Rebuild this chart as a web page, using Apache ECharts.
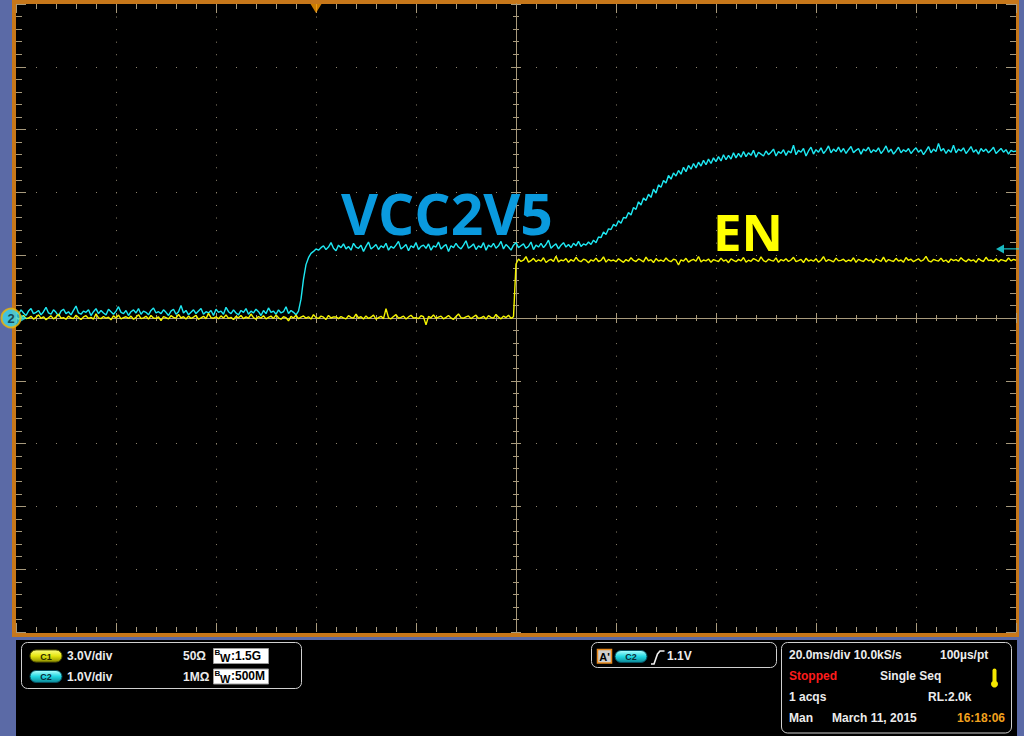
<!DOCTYPE html>
<html>
<head>
<meta charset="utf-8">
<title>VCC2V5 / EN power-up</title>
<script src="https://cdn.jsdelivr.net/npm/echarts@6/dist/echarts.min.js"></script>
<style>
  html, body { margin: 0; padding: 0; background: #5b6aa6; }
  #chart { width: 1024px; height: 736px; }
</style>
</head>
<body>
<div id="chart"></div>
<script>
// time base: screen spans -60 .. 140 ms (20 ms/div), trigger at 0
const T0 = -60;
const DT = 0.5;
const tMin = -60;
const tMax = 140;

// C2 = VCC2V5, volts (1.0 V/div)
const c2Volts = [
  // before the first step
  0.10,0.06,0.13,0.08,0.04,0.11,0.15,0.07,0.09,0.12,
  0.05,0.10,0.17,0.08,0.06,0.13,0.09,0.03,0.11,0.14,
  0.07,0.10,0.05,0.12,0.19,0.08,0.06,0.11,0.09,0.13,
  0.04,0.10,0.15,0.07,0.12,0.08,0.05,0.14,0.10,0.06,
  0.11,0.18,0.09,0.07,0.12,0.04,0.10,0.13,0.08,0.15,
  0.06,0.11,0.09,0.05,0.12,0.16,0.08,0.10,0.07,0.13,
  0.09,0.04,0.11,0.14,0.06,0.10,0.20,0.08,0.12,0.05,
  0.09,0.13,0.07,0.11,0.15,0.06,0.10,0.08,0.12,0.04,
  0.14,0.09,0.11,0.06,0.17,0.10,0.07,0.13,0.08,0.05,
  0.12,0.09,0.15,0.06,0.11,0.08,0.14,0.10,0.04,0.12,
  0.07,0.16,0.09,0.11,0.06,0.13,0.08,0.10,0.18,0.07,
  0.12,0.09,0.05,0.11,
  // first step
  0.30,0.62,0.85,0.96,1.03,1.06,1.10,1.08,1.12,
  // shelf
  1.15,1.09,1.13,1.20,1.11,1.07,1.16,1.12,1.18,1.10,
  1.14,1.08,1.19,1.13,1.11,1.16,1.06,1.14,1.21,1.10,
  1.13,1.17,1.09,1.15,1.12,1.19,1.08,1.14,1.11,1.16,
  1.22,1.10,1.13,1.17,1.07,1.15,1.12,1.20,1.09,1.14,
  1.16,1.11,1.18,1.08,1.15,1.13,1.21,1.10,1.14,1.17,
  1.06,1.15,1.12,1.19,1.13,1.10,1.16,1.23,1.11,1.14,
  1.18,1.09,1.15,1.12,1.20,1.08,1.16,1.13,1.19,1.11,
  1.15,1.22,1.10,1.17,1.13,1.08,1.16,1.20,1.12,1.15,
  1.18,1.11,1.14,1.21,1.09,1.16,1.13,1.19,1.12,1.17,
  1.24,1.11,1.15,1.18,1.10,1.16,1.20,1.13,1.17,1.12,
  1.19,1.15,1.22,1.14,1.18,1.16,1.21,
  // second ramp and final level
  1.17,1.24,1.20,1.29,1.28,1.37,1.33,1.42,1.41,1.49,
  1.46,1.55,1.51,1.60,1.59,1.68,1.64,1.76,1.73,1.85,
  1.80,1.91,1.87,1.97,1.92,2.05,1.99,2.12,2.08,2.19,
  2.15,2.27,2.21,2.31,2.26,2.35,2.29,2.40,2.33,2.43,
  2.37,2.46,2.39,2.48,2.42,2.51,2.44,2.53,2.46,2.55,
  2.49,2.57,2.50,2.60,2.52,2.59,2.53,2.63,2.55,2.62,
  2.56,2.65,2.57,2.63,2.59,2.67,2.56,2.64,2.61,2.58,
  2.66,2.60,2.64,2.69,2.58,2.65,2.62,2.68,2.59,2.66,
  2.63,2.75,2.60,2.67,2.64,2.70,2.58,2.66,2.72,2.61,
  2.68,2.64,2.71,2.62,2.67,2.74,2.63,2.69,2.65,2.72,
  2.64,2.70,2.62,2.68,2.73,2.63,2.67,2.70,2.61,2.69,
  2.66,2.72,2.63,2.68,2.65,2.71,2.62,2.67,2.74,2.64,
  2.69,2.61,2.66,2.72,2.63,2.68,2.65,2.70,2.62,2.67,
  2.71,2.64,2.68,2.60,2.66,2.73,2.63,2.69,2.65,2.78,
  2.66,2.70,2.62,2.68,2.64,2.75,2.63,2.69,2.66,2.71,
  2.62,2.67,2.73,2.64,2.68,2.61,2.70,2.65,2.69,2.63,
  2.67,2.72,2.62,2.66,2.70,2.64,2.68,2.61,2.67,2.65,
  2.66
];

// C1 = EN, volts (3.0 V/div)
const c1Volts = [
  // low
  0.05,-0.06,0.02,0.12,-0.03,0.00,0.08,-0.05,0.03,0.15,
  -0.02,0.06,-0.08,0.01,0.10,-0.04,0.04,0.18,-0.01,0.02,
  -0.06,0.09,0.00,-0.03,0.13,0.02,-0.07,0.05,0.11,-0.02,
  0.03,-0.05,0.20,0.01,-0.03,0.07,-0.01,0.04,-0.09,0.10,
  0.00,0.14,-0.04,0.02,0.06,-0.02,0.09,-0.06,0.03,0.16,
  -0.03,0.01,0.08,-0.05,0.12,0.00,-0.02,0.05,-0.12,0.07,
  0.02,-0.04,0.11,0.03,-0.01,0.17,0.00,0.06,-0.05,0.09,
  -0.02,0.04,0.13,-0.06,0.01,0.08,-0.03,0.22,0.02,-0.01,
  0.06,-0.04,0.10,0.00,0.15,-0.02,0.03,-0.07,0.08,0.01,
  0.12,-0.03,0.05,-0.01,0.19,0.02,-0.05,0.07,0.00,0.11,
  -0.04,0.03,0.09,-0.02,0.14,0.01,-0.06,0.06,0.02,-0.14,
  0.08,0.00,0.13,-0.03,0.04,0.10,-0.01,0.06,-0.05,0.16,
  0.02,-0.02,0.09,0.04,-0.07,0.12,0.00,0.05,0.05,-0.03,
  0.07,0.01,-0.04,0.11,0.03,-0.01,0.18,0.00,0.06,-0.05,
  0.10,-0.02,0.04,0.14,-0.06,0.02,0.08,-0.03,0.45,0.01,
  -0.04,0.07,0.16,-0.01,0.03,0.09,-0.05,0.05,0.13,0.00,
  0.02,-0.03,0.11,0.06,-0.33,0.08,0.01,0.15,-0.02,0.04,
  0.09,-0.04,0.03,0.12,0.00,-0.06,0.07,0.19,0.02,-0.01,
  0.05,0.10,-0.03,0.06,0.14,-0.02,0.01,0.08,-0.05,0.11,
  0.03,-0.01,0.17,0.04,-0.04,0.09,0.02,0.13,-0.02,0.06,
  // high
  2.58,2.82,2.70,2.76,2.93,2.67,2.74,2.85,2.69,2.78,
  2.72,2.88,2.65,2.75,2.80,2.70,2.95,2.68,2.77,2.73,
  2.84,2.66,2.79,2.71,2.90,2.74,2.69,2.81,2.76,2.64,
  2.78,2.72,2.86,2.70,2.75,2.92,2.67,2.80,2.73,2.77,
  2.69,2.83,2.74,2.66,2.79,2.71,2.88,2.75,2.70,2.82,
  2.76,2.68,2.91,2.73,2.79,2.65,2.84,2.72,2.77,2.70,
  2.87,2.74,2.69,2.81,2.76,2.53,2.78,2.72,2.85,2.67,
  2.75,2.80,2.71,2.94,2.68,2.77,2.73,2.82,2.66,2.79,
  2.74,2.70,2.86,2.72,2.78,2.64,2.83,2.75,2.69,2.80,
  2.73,2.89,2.67,2.76,2.71,2.84,2.78,2.70,2.92,2.74,
  2.68,2.81,2.75,2.72,2.87,2.66,2.79,2.73,2.83,2.70,
  2.77,2.90,2.69,2.74,2.80,2.65,2.85,2.72,2.78,2.71,
  2.83,2.67,2.76,2.93,2.70,2.79,2.74,2.68,2.86,2.73,
  2.75,2.81,2.69,2.77,2.72,2.88,2.66,2.80,2.74,2.70,
  2.84,2.73,2.78,2.64,2.82,2.76,2.71,2.91,2.68,2.79,
  2.74,2.70,2.85,2.72,2.77,2.67,2.89,2.75,2.81,2.69,
  2.76,2.83,2.71,2.78,2.94,2.73,2.68,2.80,2.75,2.72,
  2.86,2.70,2.77,2.65,2.82,2.74,2.79,2.71,2.88,2.76,
  2.69,2.81,2.73,2.78,2.66,2.84,2.75,2.70,2.90,2.74,
  2.77,2.72,2.83,2.68,2.79,2.75,2.71,2.87,2.73,2.80,
  2.76
];

const triggerTime = 0;     // ms
const triggerLevel = 1.1;  // V on C2
const c2Ground = 0;        // V

const TRACE_C2 = '#1ee8f2';
const TRACE_C1 = '#f4f400';
const TAN = '#a89a7c';
const DOT = '#8c826c';
const ORANGE = '#c6771a';
const FONT = '"Liberation Sans", Arial, sans-serif';

function pairs(vals) {
  return vals.map((v, i) => [T0 + i * DT, v]);
}

// centre cross (ticks on both sides -> two axes each)
function centerX(inside) {
  return {
    type: 'value', min: tMin, max: tMax, interval: 20, position: 'bottom', z: 1,
    axisLine: { show: true, onZero: true, onZeroAxisIndex: 0, lineStyle: { color: TAN, width: 1 } },
    axisTick: { show: true, inside: inside, length: 5, lineStyle: { color: TAN } },
    minorTick: { show: true, splitNumber: 5, length: 3, lineStyle: { color: TAN } },
    axisLabel: { show: false }, splitLine: { show: false }
  };
}
function centerY(inside) {
  return {
    type: 'value', min: -5, max: 5, interval: 1, position: 'left', z: 1,
    axisLine: { show: true, onZero: true, onZeroAxisIndex: 1, lineStyle: { color: TAN, width: 1 } },
    axisTick: { show: true, inside: inside, length: 5, lineStyle: { color: TAN } },
    minorTick: { show: true, splitNumber: 5, length: 3, lineStyle: { color: TAN } },
    axisLabel: { show: false }, splitLine: { show: false }
  };
}
// ticks round the edge of the graticule
function borderX(pos) {
  return {
    type: 'value', min: tMin, max: tMax, interval: 20, position: pos, z: 1,
    axisLine: { show: false, onZero: false },
    axisTick: { show: true, inside: true, length: 9, lineStyle: { color: TAN } },
    minorTick: { show: true, splitNumber: 5, length: 5, lineStyle: { color: TAN } },
    axisLabel: { show: false }, splitLine: { show: false }
  };
}
function borderY(pos) {
  return {
    type: 'value', min: -5, max: 5, interval: 1, position: pos, z: 1,
    axisLine: { show: false, onZero: false },
    axisTick: { show: true, inside: true, length: 10, lineStyle: { color: TAN } },
    minorTick: { show: true, splitNumber: 5, length: 6, lineStyle: { color: TAN } },
    axisLabel: { show: false }, splitLine: { show: false }
  };
}

function text(x, y, str, fill, font) {
  return {
    type: 'text', x: x, y: y, z: 2,
    style: { text: str, fill: fill || '#ececec', font: font || ('bold 12px ' + FONT), verticalAlign: 'middle' }
  };
}
function rect(x, y, w, h, style, r, z) {
  return { type: 'rect', z: z == null ? 0 : z, shape: { x: x, y: y, width: w, height: h, r: r || 0 }, style: style };
}
function pill(x, y, label, c0, c1, c2, edge, ink) {
  return [
    rect(x, y, 32, 12, {
      fill: new echarts.graphic.LinearGradient(0, 0, 0, 1, [
        { offset: 0, color: c0 }, { offset: 0.5, color: c1 }, { offset: 1, color: c2 }
      ]),
      stroke: edge, lineWidth: 1
    }, 6, 1),
    { type: 'text', x: x + 16, y: y + 6.5, z: 2,
      style: { text: label, fill: ink, font: 'bold 9px ' + FONT, align: 'center', verticalAlign: 'middle' } }
  ];
}
// bandwidth box: small raised B, lowered W, then the value
function bwBox(x, y, val) {
  return [
    rect(x, y, 55, 15, { fill: '#ffffff', stroke: '#9a9a9a', lineWidth: 1 }, 0, 1),
    text(x + 1, y + 4, 'B', '#000', 'bold 8px ' + FONT),
    text(x + 6.5, y + 9.5, 'W', '#000', 'bold 11px ' + FONT),
    text(x + 17.5, y + 7, val, '#000', 'bold 12px ' + FONT)
  ];
}

const panelLine = { fill: 'none', stroke: '#d0d0d0', lineWidth: 1 };

const graphics = [
  // frame, graticule background, bottom panel background
  rect(12, 0, 1007, 637, { fill: ORANGE }, 0, 0),
  rect(16, 4, 1000, 629, { fill: '#000000' }, 0, 0),
  rect(16, 640, 1001, 96, { fill: '#000000' }, 0, 0),

  // trace names
  { type: 'text', x: 341, y: 213, z: 10,
    style: { text: 'VCC2V5', fill: '#0a9ade', font: 'bold 57px "Open Sans", sans-serif', verticalAlign: 'middle' } },
  { type: 'text', x: 713, y: 231, z: 10,
    style: { text: 'EN', fill: '#ffff00', font: 'bold 51px "Open Sans", sans-serif', verticalAlign: 'middle' } },

  // channel panel
  rect(21.5, 642.5, 280, 46, panelLine, 6, 1),
  ...pill(30, 650, 'C1', '#fbfb80', '#e6e610', '#8e8e00', '#5e5e00', '#2a2a00'),
  text(67, 656, '3.0V/div'),
  text(183, 656, '50Ω'),
  ...bwBox(213.5, 648.5, ':1.5G'),
  ...pill(30, 670.5, 'C2', '#b4ffff', '#22d8e2', '#0a8796', '#055060', '#0a2a36'),
  text(67, 676.5, '1.0V/div'),
  text(183, 676.5, '1MΩ'),
  ...bwBox(213.5, 669, ':500M'),

  // trigger panel
  rect(591.5, 642.5, 185, 25, panelLine, 6, 1),
  rect(597.5, 649.5, 14, 13.5, { fill: '#cfcfcf', stroke: '#e8891c', lineWidth: 1.5 }, 0, 1),
  { type: 'text', x: 604.5, y: 656.5, z: 2,
    style: { text: "A'", fill: '#000', font: 'bold 11px ' + FONT, align: 'center', verticalAlign: 'middle' } },
  ...pill(615, 650.5, 'C2', '#b4ffff', '#22d8e2', '#0a8796', '#055060', '#0a2a36'),
  { type: 'polyline', z: 2, shape: { points: [[651, 664], [654, 664], [657.5, 654], [660, 651], [664.5, 651]] },
    style: { stroke: '#f0f0f0', lineWidth: 1.6, fill: 'none' } },
  text(667, 656, '1.1V'),

  // acquisition panel
  rect(781.5, 642.5, 230, 90.5, panelLine, 6, 1),
  text(789, 655, '20.0ms/div 10.0kS/s'),
  text(940, 655, '100µs/pt'),
  text(789, 676, 'Stopped', '#ff1c1c'),
  text(880, 676, 'Single Seq'),
  rect(992.5, 668.5, 4, 14, { fill: '#f6e800' }, 2, 2),
  { type: 'circle', z: 2, shape: { cx: 994.5, cy: 684, r: 3.5 }, style: { fill: '#f6e800' } },
  text(789, 697, '1 acqs'),
  text(928, 697, 'RL:2.0k'),
  text(789, 718, 'Man'),
  text(832, 718, 'March 11, 2015'),
  text(957, 718, '16:18:06', '#f2a21e')
];

const chart = echarts.init(document.getElementById('chart'), null, { renderer: 'svg' });

chart.setOption({
  animation: false,
  backgroundColor: '#5b6aa6',
  grid: { left: 16, top: 4, width: 1000, height: 628, show: false, containLabel: false, outerBoundsMode: 'none' },
  xAxis: [
    {
      type: 'value', min: tMin, max: tMax, interval: 20, position: 'bottom', z: 1,
      axisLine: { show: false, onZero: false }, axisTick: { show: false }, axisLabel: { show: false },
      splitLine: { show: true, showMinLine: false, showMaxLine: false,
        lineStyle: { color: DOT, width: 1, type: [1, 11.56] } }
    },
    {
      // helper: screen-centred time axis so the vertical centre line sits mid-screen
      type: 'value', min: -100, max: 100, interval: 20, position: 'top',
      axisLine: { show: false, onZero: false }, axisTick: { show: false }, axisLabel: { show: false },
      splitLine: { show: false }
    },
    centerX(false), centerX(true),
    borderX('top'), borderX('bottom')
  ],
  yAxis: [
    {
      type: 'value', min: -5, max: 5, interval: 1, position: 'left', z: 1,
      axisLine: { show: false, onZero: false }, axisTick: { show: false }, axisLabel: { show: false },
      splitLine: { show: true, showMinLine: false, showMaxLine: false,
        lineStyle: { color: DOT, width: 1, type: [1, 19] } }
    },
    {
      type: 'value', min: -15, max: 15, interval: 3, position: 'right',
      axisLine: { show: false, onZero: false }, axisTick: { show: false }, axisLabel: { show: false },
      splitLine: { show: false }
    },
    centerY(false), centerY(true),
    borderY('left'), borderY('right')
  ],
  graphic: graphics,
  series: [
    {
      name: 'VCC2V5', type: 'line', xAxisIndex: 0, yAxisIndex: 0, z: 3, silent: true,
      data: pairs(c2Volts), showSymbol: false,
      lineStyle: { color: TRACE_C2, width: 1.4 }
    },
    {
      name: 'EN', type: 'line', xAxisIndex: 0, yAxisIndex: 1, z: 4, silent: true,
      data: pairs(c1Volts), showSymbol: false,
      lineStyle: { color: TRACE_C1, width: 1.4 }
    },
    {
      // trigger position
      type: 'scatter', xAxisIndex: 0, yAxisIndex: 0, z: 6, silent: true, clip: false,
      data: [[triggerTime, 5]], symbol: 'triangle', symbolRotate: 180,
      symbolSize: [11, 9], symbolOffset: [0, 4.5], itemStyle: { color: '#ff9c00' }
    },
    {
      // trigger level
      type: 'scatter', xAxisIndex: 0, yAxisIndex: 0, z: 6, silent: true, clip: false,
      data: [[tMax, triggerLevel]],
      symbol: 'path://M0,4.5L8,0L8,3.9L23,3.9L23,5.1L8,5.1L8,9Z',
      symbolSize: [23, 9], symbolOffset: [-8.5, 0], itemStyle: { color: TRACE_C2 }
    },
    {
      // C2 ground reference
      type: 'scatter', xAxisIndex: 0, yAxisIndex: 0, z: 6, silent: true, clip: false,
      data: [[tMin, c2Ground]], symbol: 'triangle', symbolRotate: -90,
      symbolSize: [8, 7], symbolOffset: [7.5, 0], itemStyle: { color: TRACE_C2 }
    },
    {
      type: 'scatter', xAxisIndex: 0, yAxisIndex: 0, z: 7, silent: true, clip: false,
      data: [[tMin, c2Ground]], symbol: 'circle', symbolSize: 19, symbolOffset: [-5, 0],
      itemStyle: { color: '#3ad8ee', borderColor: '#f2b400', borderWidth: 2 },
      label: { show: true, position: 'inside', formatter: '2', color: '#0c2630',
        fontSize: 13, fontWeight: 'bold', fontFamily: 'Liberation Sans' }
    }
  ]
});
</script>
</body>
</html>
